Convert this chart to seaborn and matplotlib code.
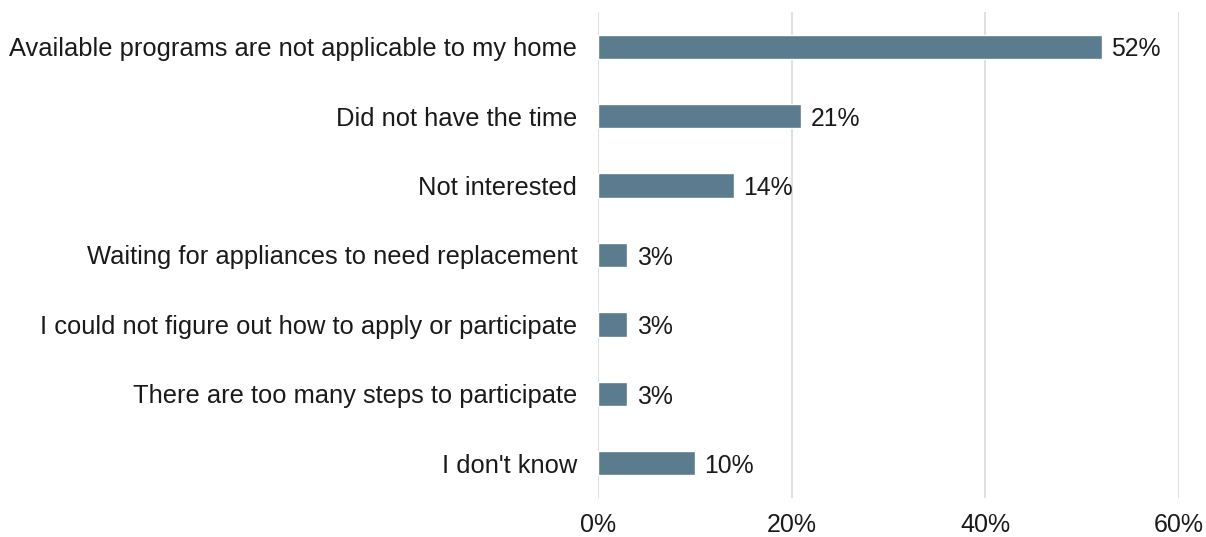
import matplotlib
matplotlib.use("Agg")
import matplotlib.pyplot as plt
import seaborn as sns
import pandas as pd
from matplotlib.ticker import PercentFormatter

reasons = [
    "Available programs are not applicable to my home",
    "Did not have the time",
    "Not interested",
    "Waiting for appliances to need replacement",
    "I could not figure out how to apply or participate",
    "There are too many steps to participate",
    "I don't know",
]
shares = [52, 21, 14, 3, 3, 3, 10]
x_ticks = [0, 20, 40, 60]

df = pd.DataFrame({"reason": reasons, "share": shares})

sns.set_theme(style="white")
plt.rcParams["font.family"] = ["Liberation Sans", "DejaVu Sans"]

fig = plt.figure(figsize=(12.06, 5.37), dpi=100)
ax = fig.add_axes([0.4959, 0.0726, 0.4817, 0.9051])

sns.barplot(data=df, x="share", y="reason", color="#5B7B8E", saturation=1,
            width=0.35, ax=ax, zorder=3)

for patch, val in zip(ax.patches, shares):
    y = patch.get_y() + patch.get_height() / 2
    ax.text(patch.get_width() + 1.0, y + 0.04, f"{val}%", va="center", ha="left",
            fontsize=17.8, color="#1a1a1a")

ax.set_xlim(0, 60)
ax.set_ylim(6.5, -0.5)
ax.set_xticks(x_ticks)
ax.xaxis.set_major_formatter(PercentFormatter(decimals=0))
ax.grid(axis="x", color="#D9D9D9", linewidth=1.2, zorder=0)
ax.grid(axis="y", visible=False)
for s in ax.spines.values():
    s.set_visible(False)
ax.set_xlabel("")
ax.set_ylabel("")
ax.tick_params(axis="x", labelsize=18, pad=11, length=0, colors="#1a1a1a")
ax.tick_params(axis="y", labelsize=18.4, pad=15, length=0, colors="#1a1a1a")

fig.savefig("out.png", dpi=100)
